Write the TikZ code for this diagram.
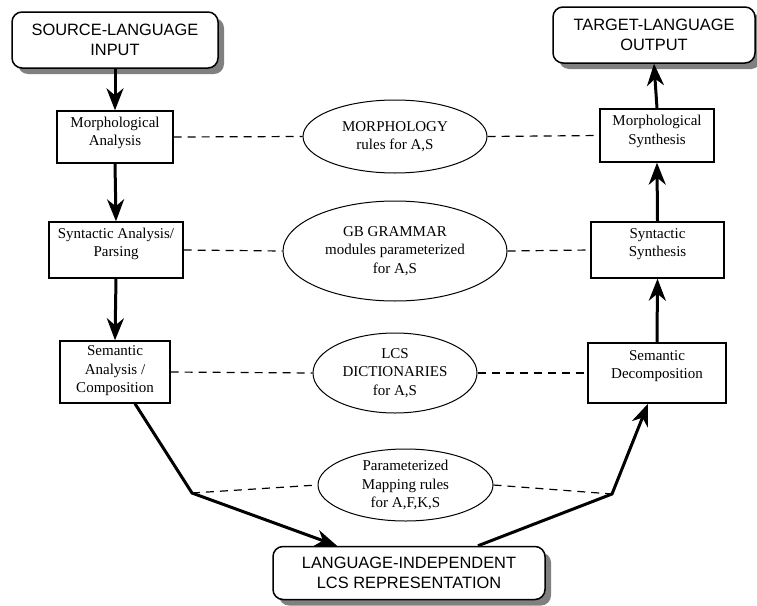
\documentclass[tikz,border=0pt]{standalone}
\usepackage{fontspec}
\setmainfont{Liberation Serif}
\setsansfont{Liberation Sans}
\usetikzlibrary{arrows.meta,shapes.geometric}

\tikzset{
  stagebox/.style={draw, line width=1.4pt, minimum width=#1, minimum height=54pt, inner sep=0pt},
  stagetext/.style={align=center, inner sep=0pt, font=\fontsize{15}{18.5}\selectfont},
  endbox/.style={draw, line width=1.5pt, rounded corners=10pt, fill=white, inner sep=0pt,
    minimum height=56pt, align=center, font=\sffamily\fontsize{16.4}{20}\selectfont},
  boxshadow/.style={fill=black!50, rounded corners=10pt, inner sep=0pt, minimum height=56pt},
  rulebase/.style={draw, ellipse, line width=1pt, inner sep=0pt, align=center,
    font=\fontsize{15}{18.5}\selectfont},
  flow/.style={line width=3pt, -{Stealth[length=22pt, width=17pt, inset=7pt]}},
  link/.style={line width=1.2pt, dash pattern=on 8pt off 6pt},
}

\begin{document}
\begin{tikzpicture}[x=1pt, y=-1pt]
\useasboundingbox (0,0) rectangle (757,605);

% shadows under the rounded boxes
\node[boxshadow, minimum width=206pt] (src-sh) at (121,46) {};
\node[boxshadow, minimum width=202pt] (tgt-sh) at (660,41) {};
\node[boxshadow, minimum width=272pt, minimum height=53pt] (lcs-sh) at (415,579) {};

% input, output and interlingua
\node[endbox, minimum width=206pt] (src) at (115,40) {SOURCE-LANGUAGE\\INPUT};
\node[endbox, minimum width=202pt] (tgt) at (654,35) {TARGET-LANGUAGE\\OUTPUT};
\node[endbox, minimum width=272pt, minimum height=53pt] (lcs) at (409,573) {LANGUAGE-INDEPENDENT\\LCS REPRESENTATION};

% analysis column
\node[stagebox=116pt, minimum height=52pt] (ma) at (115,137) {};
\node[stagetext] at ([yshift=4pt]ma.center) {Morphological\\Analysis};
\node[stagebox=134pt, minimum height=56pt] (sa) at (116,250) {};
\node[stagetext] at ([yshift=6pt]sa.center) {Syntactic Analysis/\\Parsing};
\node[stagebox=110pt, minimum height=62pt] (sem) at (115,372) {};
\node[stagetext] at ([yshift=1pt]sem.center) {Semantic\\Analysis /\\Composition};

% synthesis column
\node[stagebox=114pt, minimum height=53pt] (ms) at (657,135.5) {};
\node[stagetext] at ([yshift=4pt]ms.center) {Morphological\\Synthesis};
\node[stagebox=133pt, minimum height=56pt] (ss) at (657.5,250) {};
\node[stagetext] at ([yshift=6pt]ss.center) {Syntactic\\Synthesis};
\node[stagebox=138pt, minimum height=60pt] (sd) at (657,373) {};
\node[stagetext] at ([yshift=7pt]sd.center) {Semantic\\Decomposition};

% shared knowledge sources
\node[rulebase, minimum width=184pt, minimum height=73pt] (morph) at (395,136.5) {MORPHOLOGY\\rules for A,S};
\node[rulebase, minimum width=224pt, minimum height=100pt] (gb) at (395,251) {GB GRAMMAR\\modules parameterized\\for A,S};
\node[rulebase, minimum width=164pt, minimum height=80pt] (dict) at (395,373) {LCS\\DICTIONARIES\\for A,S};
\node[rulebase, minimum width=175pt, minimum height=72pt] (map) at (405.5,485) {Parameterized\\Mapping rules\\for A,F,K,S};

% bends of the path through the interlingua
\coordinate (bendL) at (192,493);
\coordinate (bendR) at (612,494);

% processing flow
\draw[flow] (src.south) -- (ma.north);
\draw[flow] (ma.south) -- (sa.north);
\draw[flow] (sa.south) -- (sem.north);
\draw[flow] ([xshift=20pt]sem.south) -- (bendL) -- ([xshift=-72pt]lcs.north);
\draw[flow] ([xshift=69pt]lcs.north) -- (bendR) -- ([xshift=-9pt]sd.south);
\draw[flow] (sd.north) -- (ss.south);
\draw[flow] (ss.north) -- (ms.south);
\draw[flow] (ms.north) -- (tgt.south);

% links to the knowledge sources
\draw[link] (ma.east) -- (morph.west);
\draw[link] (morph.east) -- (ms.west);
\draw[link] (sa.east) -- (gb.west);
\draw[link] (gb.east) -- (ss.west);
\draw[link] (sem.east) -- (dict.west);
\draw[link] (dict.east) -- (sd.west);
\draw[link] (bendL) -- (map.west);
\draw[link] (map.east) -- (bendR);
\end{tikzpicture}
\end{document}
